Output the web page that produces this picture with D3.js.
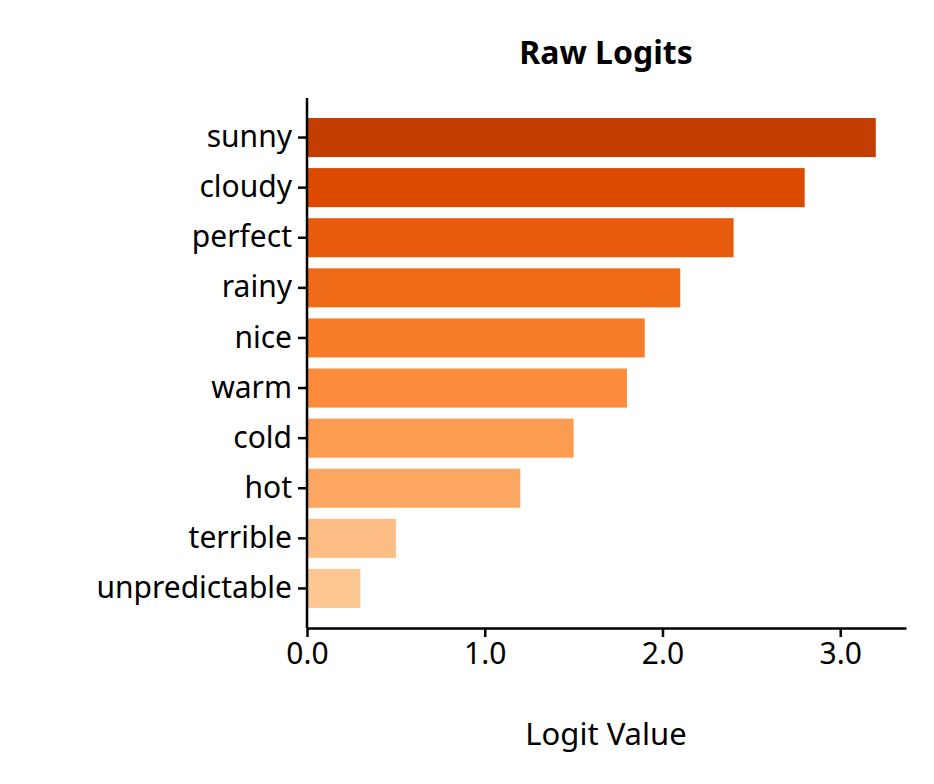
<!DOCTYPE html>
<html><head><meta charset="utf-8">
<script src="https://cdn.jsdelivr.net/npm/d3@7"></script>
<style>body{margin:0;background:#fff}</style>
</head><body><svg width="934" height="784"></svg>
<script>
"use strict";

const words = ["sunny","cloudy","perfect","rainy","nice","warm","cold","hot","terrible","unpredictable"];
const logits = [3.2, 2.8, 2.4, 2.1, 1.9, 1.8, 1.5, 1.2, 0.5, 0.3];
const colors = ["#c43e02","#dc4a02","#e85a0d","#f06b18","#f87d2a","#fc8c3b","#fd9b50","#fda762","#fdbd84","#fdc794"];
const ticks = [0, 1, 2, 3];

const svg = d3.select("svg");
const font = "'Noto Sans', sans-serif";

const x = d3.scaleLinear().domain([0, 3.37]).range([307, 906]);
const y = d3.scaleBand().domain(words).range([118, 608]).paddingInner(0.22).paddingOuter(0.0);

svg.selectAll("rect.bar")
    .data(words)
    .join("rect")
    .attr("class", "bar")
    .attr("x", x(0))
    .attr("y", d => y(d))
    .attr("width", (d, i) => x(logits[i]) - x(0))
    .attr("height", y.bandwidth())
    .attr("fill", (d, i) => colors[i]);

const xAxis = svg.append("g")
    .attr("transform", "translate(0,628)")
    .call(d3.axisBottom(x).tickValues(ticks).tickSize(9).tickPadding(6).tickSizeOuter(0));
const yAxis = svg.append("g")
    .attr("transform", "translate(307,0)")
    .call(d3.axisLeft(y).tickSize(9).tickPadding(6).tickSizeOuter(0));

// stretch the left spine to the full plot height
yAxis.select(".domain").attr("d", "M0,98V628");

[xAxis, yAxis].forEach(g => {
    g.selectAll("path,line").attr("stroke", "#000").attr("stroke-width", 2.5);
    g.selectAll("text").attr("font-family", font).attr("font-size", 30).attr("fill", "#000");
});

svg.append("text")
    .attr("x", 606).attr("y", 64)
    .attr("text-anchor", "middle")
    .attr("font-family", font).attr("font-weight", "bold").attr("font-size", 32)
    .text("Raw Logits");

svg.append("text")
    .attr("x", 606).attr("y", 745)
    .attr("text-anchor", "middle")
    .attr("font-family", font).attr("font-size", 31)
    .text("Logit Value");
</script></body></html>
